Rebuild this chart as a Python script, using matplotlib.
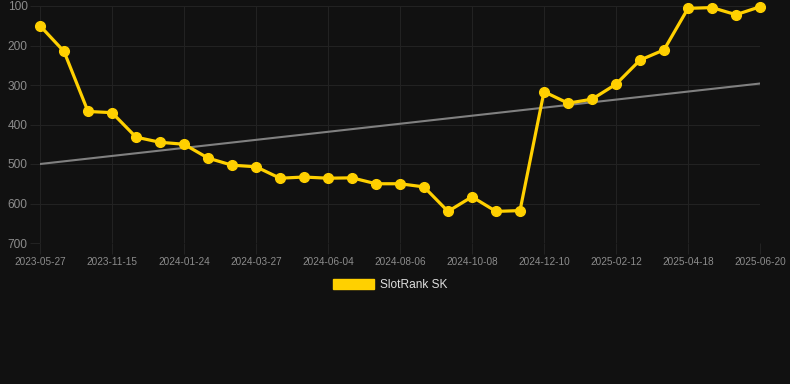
import matplotlib.pyplot as plt
import numpy as np
from matplotlib.patches import Patch

# rank values (lower is better, axis is inverted)
ranks = [150, 215, 367, 370, 432, 445, 450, 485, 503, 507,
         536, 533, 536, 535, 550, 550, 558, 620, 583, 620,
         618, 317, 346, 336, 298, 237, 211, 106, 104, 122, 102]

# only every 3rd point carries a date label
tick_labels = ['2023-05-27', '2023-11-15', '2024-01-24', '2024-03-27',
               '2024-06-04', '2024-08-06', '2024-10-08', '2024-12-10',
               '2025-02-12', '2025-04-18', '2025-06-20']
y_ticks = [100, 200, 300, 400, 500, 600, 700]

bg = '#111111'
grid_col = '#222222'
gold = '#FFD000'

x = np.arange(len(ranks))
# linear trend through the ranks
slope, intercept = np.polyfit(x, ranks, 1)
trend = slope * x + intercept

plt.rcParams['font.family'] = ['Liberation Sans', 'DejaVu Sans']

fig = plt.figure(figsize=(7.9, 3.84), dpi=100, facecolor=bg)
ax = fig.add_axes([40 / 790, 1 - 243 / 384, 720 / 790, 237 / 384])
ax.set_facecolor(bg)

ax.plot(x, trend, color='#808080', linewidth=1.5, zorder=2)
ax.plot(x, ranks, color=gold, linewidth=2.3, marker='o', markersize=7,
        markerfacecolor=gold, markeredgecolor=gold, zorder=3, clip_on=False)

ax.set_xlim(0, len(ranks) - 1)
ax.set_ylim(700, 100)
ax.set_xticks(x[::3])
ax.set_xticklabels(tick_labels)
ax.set_yticks(y_ticks)

ax.grid(True, color=grid_col, linewidth=0.8)
ax.tick_params(axis='x', colors=grid_col, labelcolor='#8c8c8c', labelsize=7.2,
               length=8, width=0.8, pad=2)
ax.tick_params(axis='y', colors=grid_col, labelcolor='#8c8c8c', labelsize=8.6,
               length=7, width=0.8, pad=2)
for s in ax.spines.values():
    s.set_visible(False)

leg = fig.legend(handles=[Patch(facecolor=gold, edgecolor=gold, label='SlotRank SK')],
                 loc='center', bbox_to_anchor=(390 / 790, 1 - 285 / 384),
                 frameon=False, fontsize=8.6, handlelength=3.4, handleheight=1.0,
                 handletextpad=0.5)
for t in leg.get_texts():
    t.set_color('#dddddd')

fig.savefig('out.png', dpi=100, facecolor=bg)
